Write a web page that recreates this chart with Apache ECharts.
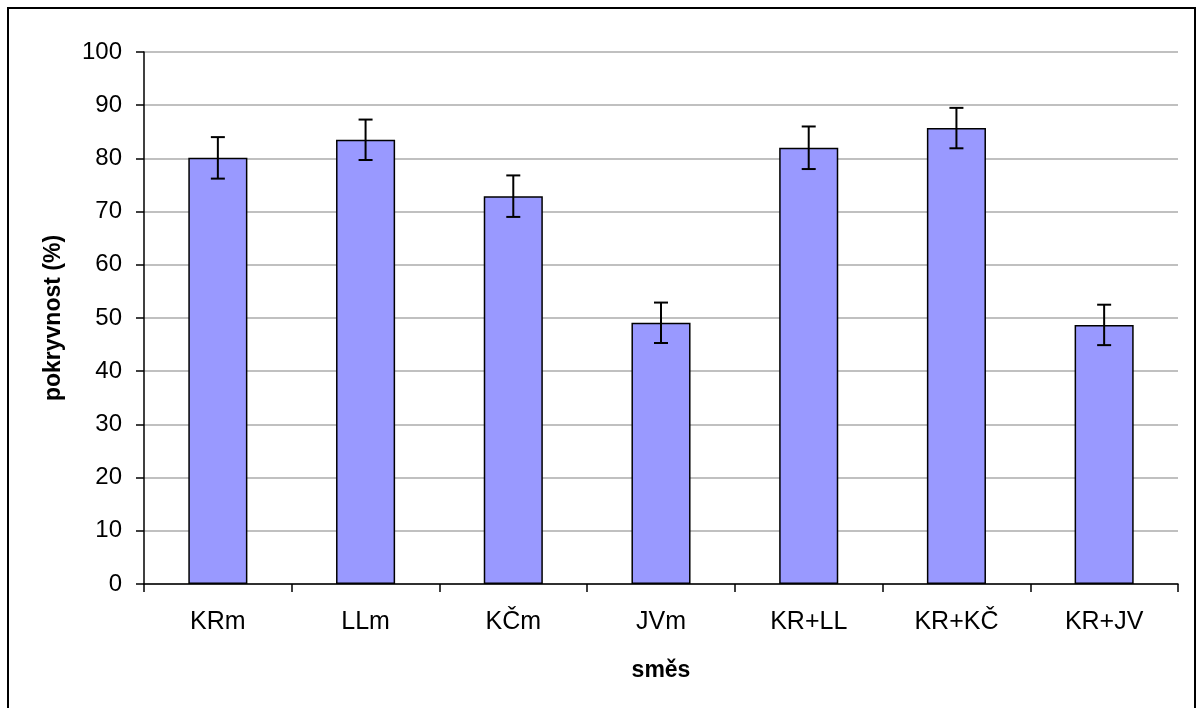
<!DOCTYPE html>
<html>
<head>
<meta charset="utf-8">
<script src="https://cdn.jsdelivr.net/npm/echarts@6/dist/echarts.min.js"></script>
<style>
html,body{margin:0;padding:0;background:#fff;}
#chart{width:1200px;height:708px;}
</style>
</head>
<body>
<div id="chart"></div>
<script>
const categories = ['KRm', 'LLm', 'KČm', 'JVm', 'KR+LL', 'KR+KČ', 'KR+JV'];
const values = [80.1, 83.5, 72.9, 49.1, 82.0, 85.7, 48.7];
const errors = [3.9, 3.8, 3.9, 3.8, 4.0, 3.8, 3.8];
const yTicks = [0, 10, 20, 30, 40, 50, 60, 70, 80, 90, 100];

const chart = echarts.init(document.getElementById('chart'), null, {renderer: 'canvas'});
const errData = categories.map((c, i) => [i, values[i] - errors[i], values[i] + errors[i]]);
const font = '"Liberation Sans", Arial, sans-serif';

chart.setOption({
  animation: false,
  backgroundColor: '#fff',
  graphic: [{
    type: 'rect',
    shape: {x: 8, y: 8, width: 1187, height: 720},
    style: {fill: 'none', stroke: '#000', lineWidth: 2},
    silent: true
  }],
  grid: {left: 144, right: 22, top: 52, bottom: 124, containLabel: false},
  xAxis: {
    type: 'category',
    data: categories,
    name: 'směs',
    nameLocation: 'middle',
    nameGap: 75,
    nameTextStyle: {fontFamily: font, fontSize: 23, fontWeight: 'bold', color: '#000'},
    axisLine: {lineStyle: {color: '#000', width: 1.5}},
    axisTick: {show: true, length: 8, alignWithLabel: false, lineStyle: {color: '#000', width: 1.5}},
    axisLabel: {fontFamily: font, fontSize: 25, color: '#000', margin: 26},
    splitLine: {show: false}
  },
  yAxis: {
    type: 'value',
    min: yTicks[0],
    max: yTicks[yTicks.length - 1],
    interval: 10,
    name: 'pokryvnost (%)',
    nameLocation: 'middle',
    nameGap: 79,
    nameRotate: 90,
    nameTextStyle: {fontFamily: font, fontSize: 23, fontWeight: 'bold', color: '#000'},
    axisLine: {show: true, lineStyle: {color: '#000', width: 1.5}},
    axisTick: {show: true, length: 8, lineStyle: {color: '#000', width: 1.5}},
    axisLabel: {fontFamily: font, fontSize: 24, color: '#000', margin: 22},
    splitLine: {show: true, lineStyle: {color: '#c0c0c0', width: 2}}
  },
  series: [{
    type: 'bar',
    data: values,
    barWidth: '40%',
    itemStyle: {color: '#9999ff', borderColor: '#000', borderWidth: 1.5},
    z: 2
  }, {
    type: 'custom',
    data: errData,
    z: 5,
    renderItem: function (params, api) {
      const x = api.value(0);
      const lo = api.coord([x, api.value(1)]);
      const hi = api.coord([x, api.value(2)]);
      const half = 7;
      const st = {stroke: '#000', lineWidth: 2};
      return {
        type: 'group',
        children: [
          {type: 'line', shape: {x1: lo[0], y1: lo[1], x2: hi[0], y2: hi[1]}, style: st},
          {type: 'line', shape: {x1: lo[0] - half, y1: lo[1], x2: lo[0] + half, y2: lo[1]}, style: st},
          {type: 'line', shape: {x1: hi[0] - half, y1: hi[1], x2: hi[0] + half, y2: hi[1]}, style: st}
        ]
      };
    }
  }]
});
</script>
</body>
</html>
